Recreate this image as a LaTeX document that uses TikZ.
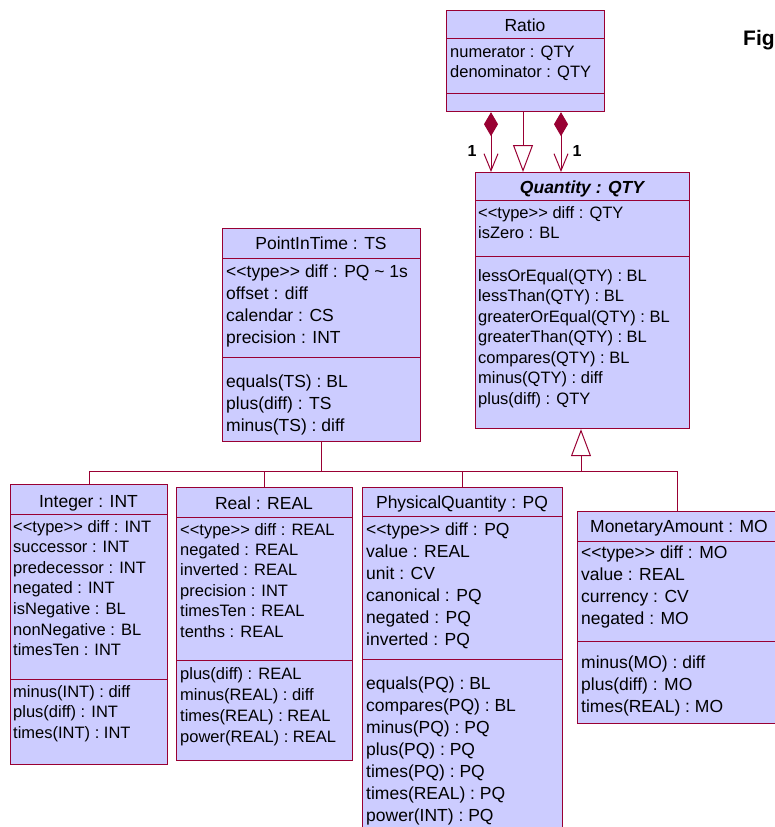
\documentclass[tikz,border=0pt]{standalone}
\usepackage{fontspec}
\setmainfont{Liberation Sans}[Ligatures=TeXOff]
\usetikzlibrary{arrows.meta}

\definecolor{umlred}{RGB}{153,0,51}
\definecolor{umlfill}{RGB}{204,204,255}

\tikzset{
  cls/.style={draw=umlred, fill=umlfill, line width=1.2pt, anchor=north west, inner sep=0pt},
  sep/.style={draw=umlred, line width=1pt},
  ttl/.style={anchor=base, inner sep=0pt, font=\fontsize{17.5}{21}\selectfont},
  txt/.style={anchor=base west, inner sep=0pt, font=\fontsize{16.5}{20}\selectfont},
  bigtxt/.style={txt, font=\fontsize{17.5}{21}\selectfont},
  mult/.style={inner sep=0pt, font=\fontsize{16}{19}\selectfont\bfseries},
  link/.style={draw=umlred, line width=1pt},
  gen/.style={link, -{Triangle[open, length=27pt, width=20pt]}},
  compo/.style={link, {Diamond[length=24pt, width=14pt, fill=umlred]}-{Straight Barb[length=17pt, width=14pt]}},
}

\begin{document}
\begin{tikzpicture}[x=1pt, y=-1pt]
      \useasboundingbox (0,0) rectangle (775,827);
      \clip (0,0) rectangle (775,827);

      \node[cls, minimum width=158pt, minimum height=101pt] (ratio) at (446,10) {};
      \draw[sep] (446,38) -- +(158,0) (446,93) -- +(158,0);
      \node[ttl] (ratio-t) at (525,31) {Ratio};
      \foreach \s [count=\i] in {numerator : QTY, denominator : QTY}
        \node[txt] (ratio-a\i) at (450,37+20*\i) {\s};

      \node[cls, minimum width=214pt, minimum height=256pt] (quantity) at (475,172) {};
      \draw[sep] (475,200) -- +(214,0) (475,256) -- +(214,0);
      \node[ttl, font=\fontsize{17.5}{21}\selectfont\bfseries\itshape] (quantity-t) at (582,193) {Quantity : QTY};
      \foreach \s [count=\i] in {<<type>> diff : QTY, isZero : BL}
        \node[txt] (quantity-a\i) at (478,198+20*\i) {\s};
      \foreach \s [count=\i] in {lessOrEqual(QTY) : BL, lessThan(QTY) : BL, greaterOrEqual(QTY) : BL,
                                 greaterThan(QTY) : BL, compares(QTY) : BL, minus(QTY) : diff, plus(diff) : QTY}
        \node[txt] (quantity-o\i) at (478,260.5+20.5*\i) {\s};

      \node[cls, minimum width=198pt, minimum height=213pt] (pit) at (222,228) {};
      \draw[sep] (222,258) -- +(198,0) (222,357) -- +(198,0);
      \node[ttl] (pit-t) at (321,249) {PointInTime : TS};
      \foreach \s [count=\i] in {<<type>> diff : PQ \textasciitilde{} 1s, offset : diff, calendar : CS, precision : INT}
        \node[bigtxt] (pit-a\i) at (226,255+22*\i) {\s};
      \foreach \s [count=\i] in {equals(TS) : BL, plus(diff) : TS, minus(TS) : diff}
        \node[bigtxt] (pit-o\i) at (226,365+22*\i) {\s};

      \node[cls, minimum width=157pt, minimum height=280pt] (integer) at (10,484) {};
      \draw[sep] (10,514) -- +(157,0) (10,679) -- +(157,0);
      \node[ttl] (integer-t) at (88.5,507) {Integer : INT};
      \foreach \s [count=\i] in {<<type>> diff : INT, successor : INT, predecessor : INT, negated : INT,
                                 isNegative : BL, nonNegative : BL, timesTen : INT}
        \node[txt] (integer-a\i) at (13,511.4+20.6*\i) {\s};
      \foreach \s [count=\i] in {minus(INT) : diff, plus(diff) : INT, times(INT) : INT}
        \node[txt] (integer-o\i) at (13,676.5+20.5*\i) {\s};

      \node[cls, minimum width=176pt, minimum height=273pt] (real) at (176,487) {};
      \draw[sep] (176,517) -- +(176,0) (176,660) -- +(176,0);
      \node[ttl] (real-t) at (264,509) {Real : REAL};
      \foreach \s [count=\i] in {<<type>> diff : REAL, negated : REAL, inverted : REAL, precision : INT,
                                 timesTen : REAL, tenths : REAL}
        \node[txt] (real-a\i) at (180,514.6+20.4*\i) {\s};
      \foreach \s [count=\i] in {plus(diff) : REAL, minus(REAL) : diff, times(REAL) : REAL, power(REAL) : REAL}
        \node[txt] (real-o\i) at (180,658+21*\i) {\s};

      \node[cls, minimum width=200pt, minimum height=360pt] (pq) at (362,487) {};
      \draw[sep] (362,516) -- +(200,0) (362,659) -- +(200,0);
      \node[ttl] (pq-t) at (462,508) {PhysicalQuantity : PQ};
      \foreach \s [count=\i] in {<<type>> diff : PQ, value : REAL, unit : CV, canonical : PQ, negated : PQ, inverted : PQ}
        \node[bigtxt] (pq-a\i) at (366,513+22*\i) {\s};
      \foreach \s [count=\i] in {equals(PQ) : BL, compares(PQ) : BL, minus(PQ) : PQ, plus(PQ) : PQ,
                                 times(PQ) : PQ, times(REAL) : PQ, power(INT) : PQ}
        \node[bigtxt] (pq-o\i) at (366,667+22*\i) {\s};

      \node[cls, minimum width=200pt, minimum height=212pt] (mo) at (577,511) {};
      \draw[sep] (577,541) -- +(200,0) (577,641) -- +(200,0);
      \node[ttl] (mo-t) at (679,532) {MonetaryAmount : MO};
      \foreach \s [count=\i] in {<<type>> diff : MO, value : REAL, currency : CV, negated : MO}
        \node[bigtxt] (mo-a\i) at (581,536+22*\i) {\s};
      \foreach \s [count=\i] in {minus(MO) : diff, plus(diff) : MO, times(REAL) : MO}
        \node[bigtxt] (mo-o\i) at (581,646+22*\i) {\s};

      \coordinate (lc) at (491,0);
      \coordinate (gc) at (523,0);
      \coordinate (rc) at (561,0);
      \draw[compo] (lc |- ratio.south) -- (lc |- quantity.north);
      \draw[gen]   (gc |- ratio.south) -- (gc |- quantity.north);
      \draw[compo] (rc |- ratio.south) -- (rc |- quantity.north);
      \node[mult] (one-l) at (472,151) {1};
      \node[mult] (one-r) at (577,151) {1};

      \coordinate (bus) at (581,471);
      \draw[gen]  (bus) -- (bus |- quantity.south);
      \draw[link] (integer.north) |- (bus);
      \draw[link] (mo.north) |- (bus);
      \draw[link] (real.north) -- (real.north |- bus);
      \draw[link] (pq.north) -- (pq.north |- bus);
      \draw[link] (pit.south) -- (pit.south |- bus);

      \node[anchor=base west, inner sep=0pt, font=\fontsize{21}{25}\selectfont\bfseries] (fig) at (743,45) {Fig};
    \end{tikzpicture}
\end{document}
